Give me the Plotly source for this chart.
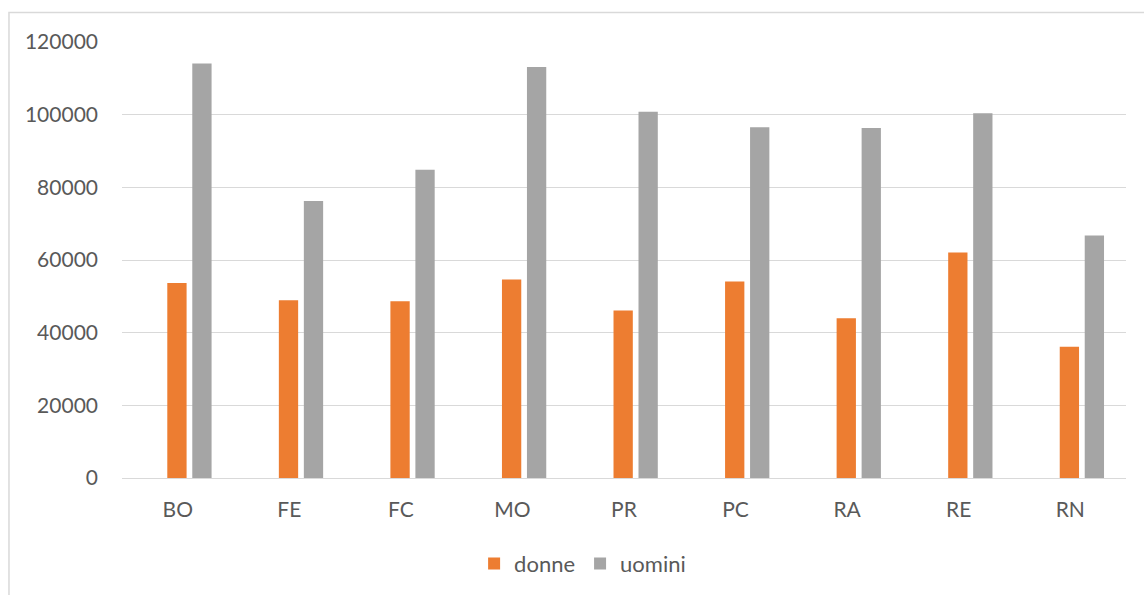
import plotly.graph_objects as go

# Province codes and counts by sex
province = ["BO", "FE", "FC", "MO", "PR", "PC", "RA", "RE", "RN"]
donne = [53640, 48890, 48620, 54650, 46070, 54100, 43950, 62050, 36090]
uomini = [114070, 76230, 84810, 113140, 100800, 96520, 96330, 100360, 66710]
y_ticks = [0, 20000, 40000, 60000, 80000, 100000, 120000]

ORANGE = "#ED7D31"
GREY = "#A5A5A5"
GRID = "#D9D9D9"
TEXT = "#595959"
FONT = "Lato"

fig = go.Figure()
fig.add_trace(go.Bar(
    x=province, y=donne, name="donne",
    marker=dict(color=ORANGE, line=dict(width=0)),
    width=0.173, offset=-0.094,
))
fig.add_trace(go.Bar(
    x=province, y=uomini, name="uomini",
    marker=dict(color=GREY, line=dict(width=0)),
    width=0.173, offset=0.130,
))

W, H = 1144, 595
L, R, T, B = 122, 18.3, 41.7, 115.7
pw, ph = W - L - R, H - T - B

def px_x(p):
    return (p - L) / pw

def px_y(p):
    return (H - B - p) / ph

fig.update_layout(
    width=W, height=H,
    margin=dict(l=L, r=R, t=T, b=B, pad=0),
    paper_bgcolor="white",
    plot_bgcolor="white",
    barmode="overlay",
    font=dict(family=FONT, size=21, color=TEXT),
    showlegend=True,
    legend=dict(
        orientation="h",
        x=px_x(474), xanchor="left",
        y=px_y(564), yanchor="middle",
        font=dict(family=FONT, size=22, color=TEXT),
        bgcolor="rgba(0,0,0,0)",
        itemwidth=30,
        traceorder="normal",
    ),
    xaxis=dict(
        type="category",
        showgrid=False,
        showline=False,
        zeroline=False,
        ticks="",
        ticklabelstandoff=17,
        tickfont=dict(family=FONT, size=21, color=TEXT),
    ),
    yaxis=dict(
        range=[0, 120000],
        tickvals=y_ticks,
        ticktext=[str(v) for v in y_ticks],
        showgrid=True,
        gridcolor=GRID,
        gridwidth=1,
        zeroline=True,
        zerolinecolor=GRID,
        zerolinewidth=1,
        showline=False,
        ticks="",
        ticklabelstandoff=23,
        tickfont=dict(family=FONT, size=21, color=TEXT),
    ),
    shapes=[
        # outer chart frame (left and top edges visible)
        dict(
            type="rect", xref="paper", yref="paper",
            x0=px_x(9), x1=px_x(1160),
            y0=px_y(620), y1=px_y(12),
            line=dict(color=GRID, width=1.5),
            fillcolor="rgba(0,0,0,0)",
            layer="below",
        )
    ],
)

fig.write_html("out.html")
